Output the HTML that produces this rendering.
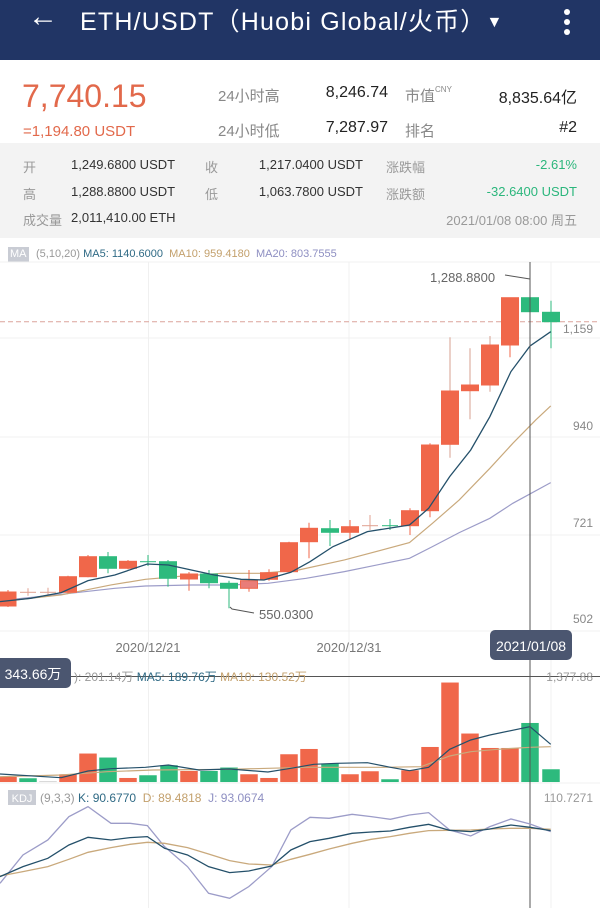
<!DOCTYPE html>
<html><head><meta charset="utf-8"><style>
*{margin:0;padding:0;box-sizing:border-box}
body{width:600px;height:908px;overflow:hidden;background:#fff;font-family:"Liberation Sans","Noto Sans CJK SC",sans-serif;position:relative}
.a{position:absolute;white-space:nowrap}
.r{text-align:right}
</style></head><body>
<div class="a" style="left:0;top:0;width:600px;height:60px;background:#213565"></div>
<div class="a" style="left:28px;top:0px;color:#fff;font-size:30px;">←</div>
<div class="a" style="left:80px;top:2px;color:#fff;font-size:25px;letter-spacing:1.2px">ETH/USDT（Huobi Global/火币）<span style="font-size:16px;position:relative;top:-3px">▼</span></div>
<div class="a" style="left:564px;top:9px;width:6px;height:6px;border-radius:3px;background:#fff"></div>
<div class="a" style="left:564px;top:19px;width:6px;height:6px;border-radius:3px;background:#fff"></div>
<div class="a" style="left:564px;top:29px;width:6px;height:6px;border-radius:3px;background:#fff"></div>

<div class="a" style="left:22px;top:78px;color:#e2694b;font-size:32px;">7,740.15</div>
<div class="a" style="left:23px;top:123px;color:#e2694b;font-size:15px;">=1,194.80 USDT</div>
<div class="a" style="left:218px;top:85px;color:#888;font-size:15px;">24小时高</div>
<div class="a" style="left:218px;top:120px;color:#888;font-size:15px;">24小时低</div>
<div class="a r" style="left:288px;width:100px;top:84px;color:#222;font-size:16px;">8,246.74</div>
<div class="a r" style="left:288px;width:100px;top:119px;color:#222;font-size:16px;">7,287.97</div>
<div class="a" style="left:405px;top:85px;color:#888;font-size:15px;">市值<sup style="font-size:8px;vertical-align:9px">CNY</sup></div>
<div class="a" style="left:405px;top:120px;color:#888;font-size:15px;">排名</div>
<div class="a r" style="left:440px;width:137px;top:84px;color:#222;font-size:16px;">8,835.64亿</div>
<div class="a r" style="left:440px;width:137px;top:119px;color:#222;font-size:16px;">#2</div>

<div class="a" style="left:0;top:143px;width:600px;height:95px;background:#f3f3f3"></div>
<div class="a" style="left:23px;top:157px;font-size:13px;color:#999">开</div>
<div class="a" style="left:23px;top:184px;font-size:13px;color:#999">高</div>
<div class="a" style="left:23px;top:210px;font-size:13px;color:#999">成交量</div>
<div class="a" style="left:71px;top:157px;font-size:13px;color:#333">1,249.6800 USDT</div>
<div class="a" style="left:71px;top:184px;font-size:13px;color:#333">1,288.8800 USDT</div>
<div class="a" style="left:71px;top:210px;font-size:13px;color:#333">2,011,410.00 ETH</div>
<div class="a" style="left:205px;top:157px;font-size:13px;color:#999">收</div>
<div class="a" style="left:205px;top:184px;font-size:13px;color:#999">低</div>
<div class="a r" style="left:230px;width:133px;top:157px;font-size:13px;color:#333">1,217.0400 USDT</div>
<div class="a r" style="left:230px;width:133px;top:184px;font-size:13px;color:#333">1,063.7800 USDT</div>
<div class="a" style="left:386px;top:157px;font-size:13px;color:#999">涨跌幅</div>
<div class="a" style="left:386px;top:184px;font-size:13px;color:#999">涨跌额</div>
<div class="a r" style="left:400px;width:177px;top:157px;font-size:13px;color:#2bb67c">-2.61%</div>
<div class="a r" style="left:400px;width:177px;top:184px;font-size:13px;color:#2bb67c">-32.6400 USDT</div>
<div class="a r" style="left:380px;width:197px;top:210px;font-size:13px;color:#999">2021/01/08 08:00 周五</div>

<div class="a" style="left:8px;top:247px;font-size:11px;color:#fff;background:#c9ccd4;padding:0 2px;line-height:15px">MA</div>
<div class="a" style="left:36px;top:247px;font-size:11px;line-height:15px;color:#999">(5,10,20) <span style="color:#2f6a85">MA5: 1140.6000</span>&nbsp; <span style="color:#c3a06c">MA10: 959.4180</span>&nbsp; <span style="color:#8e8fc2">MA20: 803.7555</span></div>

<svg class="a" style="left:0;top:0" width="600" height="908">
<g stroke="#f0f0f0" stroke-width="1">
<line x1="0" y1="338" x2="600" y2="338"/><line x1="0" y1="437" x2="600" y2="437"/><line x1="0" y1="535" x2="600" y2="535"/><line x1="0" y1="631" x2="600" y2="631"/>
<line x1="148.5" y1="262" x2="148.5" y2="908"/><line x1="349" y1="262" x2="349" y2="908"/><line x1="551" y1="262" x2="551" y2="908"/>
<line x1="0" y1="262" x2="600" y2="262"/><line x1="0" y1="783" x2="600" y2="783"/>
</g>
<line x1="0" y1="321.7" x2="600" y2="321.7" stroke="#dba49c" stroke-dasharray="5,3" stroke-width="1"/>
<g font-size="12" fill="#888" text-anchor="end">
<text x="593" y="333">1,159</text><text x="593" y="430">940</text><text x="593" y="527">721</text><text x="593" y="623">502</text>
</g>
<g fill="none" stroke-width="1.2" transform="translate(0,260) scale(0.3827,0.3333)">
<polyline vector-effect="non-scaling-stroke" stroke="#9c9cc8" points="0,1022 160,1003 300,985 380,978 500,975 600,975 700,970 800,955 900,935 1070,895 1130,860 1200,818 1280,775 1340,730 1439,668"/>
<polyline vector-effect="non-scaling-stroke" stroke="#c9a97c" points="0,1025 160,1005 290,975 380,958 480,948 580,940 680,940 780,930 900,900 1070,848 1130,790 1200,720 1280,625 1340,550 1400,480 1439,438"/>
</g>
</svg>

<svg class="a" style="left:0;top:0" width="600" height="908">
<g stroke="#f0674a" fill="#f0674a">
<rect x="-1" y="592" width="17" height="14"/><line x1="8" y1="590" x2="8" y2="607"/>
<line x1="68" y1="575.7" x2="68" y2="593.3"/><rect x="59.5" y="576.7" width="17" height="15.6"/>
<line x1="88" y1="555" x2="88" y2="577.3"/><rect x="79.5" y="556.7" width="17" height="20"/>
<line x1="128" y1="560" x2="128" y2="569.3"/><rect x="119.5" y="561.3" width="17" height="7"/>
<line x1="189" y1="572" x2="189" y2="590.7"/><rect x="180.5" y="574" width="17" height="5"/>
<line x1="249" y1="570" x2="249" y2="591.7"/><rect x="240.5" y="580.7" width="17" height="7.6" fill="#e97d78"/>
<line x1="269" y1="569.3" x2="269" y2="580.7"/><rect x="260.5" y="572.7" width="17" height="6.6"/>
<line x1="289" y1="541.7" x2="289" y2="572.7"/><rect x="280.5" y="542.7" width="17" height="29"/>
<line x1="309" y1="522.7" x2="309" y2="558.3"/><rect x="300.5" y="528.3" width="17" height="13.4"/>
<line x1="350" y1="520" x2="350" y2="539.3"/><rect x="341.5" y="526.7" width="17" height="5.6"/>
<line x1="410" y1="508.3" x2="410" y2="535"/><rect x="401.5" y="510.7" width="17" height="15"/>
<line x1="430" y1="443.3" x2="430" y2="517.3"/><rect x="421.5" y="445" width="17" height="65.7"/>
<line x1="450" y1="337.3" x2="450" y2="457.7" stroke="#d7a090"/><rect x="441.5" y="391" width="17" height="53.3"/>
<line x1="470" y1="348.3" x2="470" y2="419.3" stroke="#d7a090"/><rect x="461.5" y="385" width="17" height="5.7"/>
<line x1="490" y1="336" x2="490" y2="391.7" stroke="#d7a090"/><rect x="481.5" y="345" width="17" height="40"/>
<line x1="510" y1="297.7" x2="510" y2="357.3"/><rect x="501.5" y="297.7" width="17" height="47.3"/>
</g>
<g stroke="#e0a090" fill="none">
<line x1="28" y1="588.3" x2="28" y2="595.7"/><line x1="20" y1="592.3" x2="36" y2="592.3"/>
<line x1="48" y1="587.7" x2="48" y2="595"/><line x1="40" y1="592.3" x2="56" y2="592.3"/>
<line x1="370" y1="515" x2="370" y2="530"/><line x1="362" y1="525.7" x2="378" y2="525.7"/>
</g>
<g stroke="#2dba7d" fill="#2dba7d">
<line x1="148" y1="555" x2="148" y2="566"/><line x1="140" y1="561.7" x2="156" y2="561.7"/>
<line x1="390" y1="519" x2="390" y2="530"/><line x1="382" y1="525.7" x2="398" y2="525.7"/>
<line x1="108" y1="552" x2="108" y2="573.3"/><rect x="99.5" y="556.7" width="17" height="11.6"/>
<line x1="168" y1="560" x2="168" y2="586.7"/><rect x="159.5" y="561.7" width="17" height="16.6"/>
<line x1="209" y1="570" x2="209" y2="588.3"/><rect x="200.5" y="574" width="17" height="8.7"/>
<line x1="229" y1="580.7" x2="229" y2="608.3"/><rect x="220.5" y="583.3" width="17" height="5"/>
<line x1="330" y1="520" x2="330" y2="546"/><rect x="321.5" y="528.7" width="17" height="3.6"/>
<rect x="521.5" y="297.7" width="17" height="14"/>
<line x1="551" y1="300.7" x2="551" y2="348.3"/><rect x="542.5" y="312.3" width="17" height="9.4"/>
</g>
<polyline fill="none" stroke="#555" stroke-width="1" points="230,607 232,609 254,613"/>
<text x="259" y="619" font-size="13" fill="#666">550.0300</text>
<text x="430" y="282" font-size="13" fill="#666">1,288.8800</text>
<line x1="505" y1="275" x2="530" y2="279" stroke="#555"/>
<g fill="none" stroke-width="1.3" transform="translate(0,260) scale(0.3827,0.3333)">
<polyline vector-effect="non-scaling-stroke" stroke="#24506a" points="0,1025 80,1015 160,998 230,962 300,945 385,912 440,915 500,930 560,945 630,958 690,960 760,937 810,905 870,860 960,815 1070,795 1120,745 1175,650 1230,570 1280,470 1335,335 1385,258 1439,215"/>
</g>
<text x="148" y="652" font-size="13" fill="#777" text-anchor="middle">2020/12/21</text>
<text x="349" y="652" font-size="13" fill="#777" text-anchor="middle">2020/12/31</text>

<g stroke="#fff" stroke-width="0.5">
<g fill="#f0674a">
<rect x="-1" y="776.7" width="18" height="5.6"/><rect x="59" y="774" width="18" height="8.3"/><rect x="79" y="753.3" width="18" height="29"/>
<rect x="119" y="777.7" width="18" height="4.6"/><rect x="180" y="770.7" width="18" height="11.6"/><rect x="240" y="774" width="18" height="8.3"/>
<rect x="260" y="777.7" width="18" height="4.6"/><rect x="280" y="754" width="18" height="28.3"/><rect x="300" y="748.7" width="18" height="33.6"/>
<rect x="341" y="774" width="18" height="8.3"/><rect x="361" y="771" width="18" height="11.3"/><rect x="401" y="770" width="18" height="12.3"/>
<rect x="421" y="746.7" width="18" height="35.6"/><rect x="441" y="682.3" width="18" height="100"/><rect x="461" y="733.3" width="18" height="49"/>
<rect x="481" y="747.7" width="18" height="34.6"/><rect x="501" y="747.7" width="18" height="34.6"/>
</g>
<g fill="#2dba7d">
<rect x="19" y="778" width="18" height="4.3"/><rect x="99" y="757.3" width="18" height="25"/><rect x="139" y="775" width="18" height="7.3"/>
<rect x="160" y="765" width="18" height="17.3"/><rect x="200" y="770.7" width="18" height="11.6"/><rect x="220" y="767.3" width="18" height="15"/>
<rect x="321" y="763.3" width="18" height="19"/><rect x="381" y="779" width="18" height="3.3"/><rect x="521" y="722.7" width="18" height="59.6"/>
<rect x="542" y="769" width="18" height="13.3"/>
</g>
<rect x="39" y="781" width="18" height="1.3" fill="#ccc"/>
</g>
<g fill="none" stroke-width="1.2">
<polyline stroke="#c9a97c" points="0,776.7 61.2,775 107.2,771.7 153.1,770 229.6,769.3 306.2,767.3 382.7,767.3 421,766.7 449.7,756 470.7,751.7 497.5,749.3 530,747.3 550.7,746.7"/>
<polyline stroke="#24506a" points="0,774 61.2,777.7 88,771 111,768.7 145.4,767.3 168.4,765 199,770 229.6,769 267.9,772 290.9,768.3 313.8,764.3 336.8,763.3 367.4,762.7 390.4,767.3 409.5,770.7 428.6,767.3 449.7,749.3 470.7,740 489.9,735 530,726.7 550.7,744.3"/>
</g>
<line x1="70" y1="676.5" x2="600" y2="676.5" stroke="#555" stroke-width="1"/>
<line x1="530" y1="262" x2="530" y2="908" stroke="#555" stroke-width="1"/>
<rect x="490" y="630" width="82" height="30" rx="5" fill="#4b5670"/>
<text x="531" y="651" font-size="14" fill="#fff" text-anchor="middle">2021/01/08</text>
<rect x="-5" y="658" width="76" height="30" rx="5" fill="#4b5670"/>
<text x="33" y="679" font-size="14" fill="#fff" text-anchor="middle">343.66万</text>
<text x="74" y="681" font-size="12" fill="#999">): 201.14万 <tspan fill="#2f6a85">MA5: 189.76万</tspan> <tspan fill="#c3a06c">MA10: 130.52万</tspan></text>
<text x="593" y="681" font-size="12" fill="#999" text-anchor="end">1,377.88</text>

<rect x="8" y="790" width="28" height="15" fill="#c9ccd4"/>
<text x="22" y="802" font-size="11" fill="#fff" text-anchor="middle">KDJ</text>
<text x="40" y="802" font-size="12" fill="#999">(9,3,3) <tspan fill="#2f6a85">K: 90.6770</tspan>&#160; <tspan fill="#c3a06c">D: 89.4818</tspan>&#160; <tspan fill="#8e8fc2">J: 93.0674</tspan></text>
<text x="593" y="802" font-size="12" fill="#999" text-anchor="end">110.7271</text>
<g fill="none" stroke-width="1.3" transform="translate(0,650) scale(0.3827,0.3333)">
<polyline vector-effect="non-scaling-stroke" stroke="#9c9cc8" points="0,700 60,615 125,570 180,500 230,470 290,520 340,520 385,527 430,590 490,650 545,730 600,745 650,710 710,650 760,540 810,502 860,505 920,493 970,500 1020,508 1070,495 1120,488 1175,540 1230,558 1280,530 1335,507 1385,522 1439,545"/>
<polyline vector-effect="non-scaling-stroke" stroke="#c9a97c" points="0,678 60,665 125,650 180,628 230,607 290,593 340,583 385,577 430,580 490,593 545,612 600,632 650,642 710,645 760,628 810,613 860,597 920,580 970,568 1020,560 1070,550 1120,542 1175,541 1230,540 1280,537 1335,535 1385,535 1439,538"/>
<polyline vector-effect="non-scaling-stroke" stroke="#24506a" points="0,680 60,650 125,625 180,585 230,562 290,570 340,563 385,560 430,595 490,615 545,650 600,668 650,663 710,648 760,600 810,575 860,565 920,550 970,546 1020,543 1070,532 1120,523 1175,541 1230,545 1280,537 1335,525 1385,532 1439,542"/>
</g>
</svg>
</body></html>
